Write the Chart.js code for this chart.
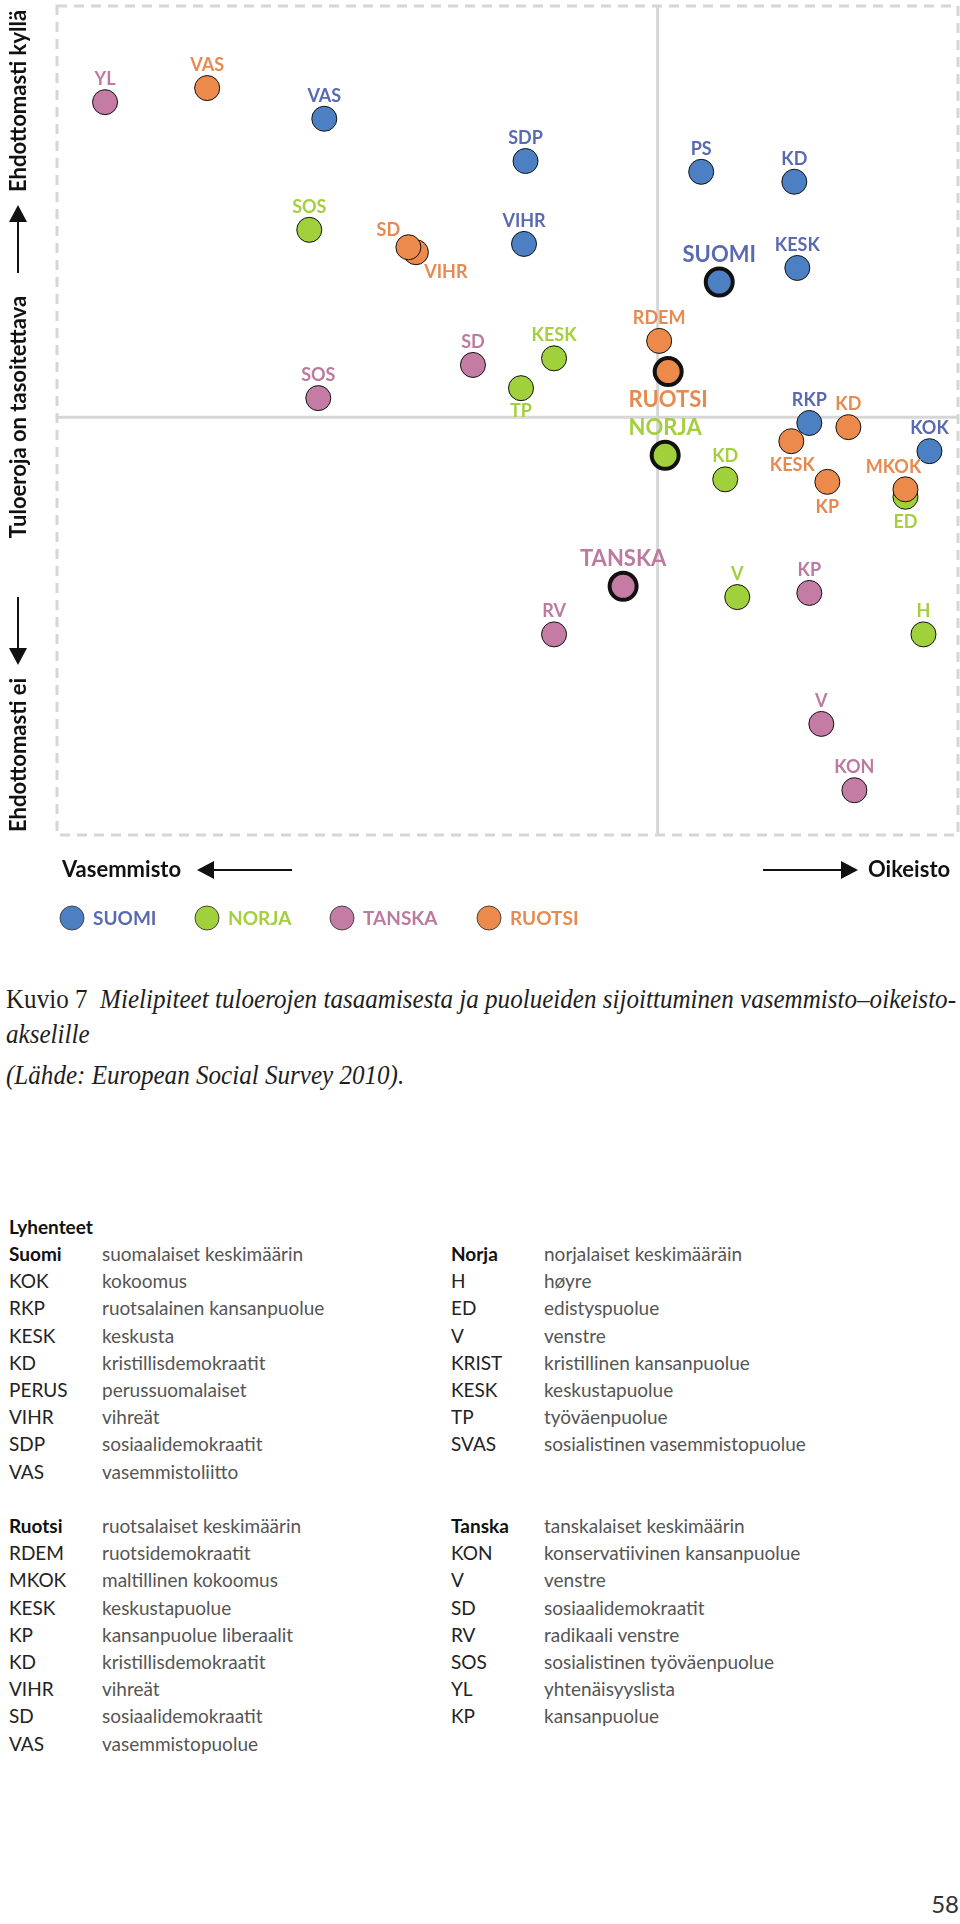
<!DOCTYPE html>
<html lang="fi">
<head>
<meta charset="utf-8">
<title>Kuvio 7</title>
<script src="https://cdn.jsdelivr.net/npm/chart.js@4.4.1/dist/chart.umd.min.js"></script>
<style>
    html, body { margin: 0; padding: 0; background: #fff; }
    body { width: 960px; height: 1924px; position: relative; overflow: hidden; }
    #chart { position: absolute; left: 0; top: 0; }
    .cap { position: absolute; left: 6px; font-family: "Liberation Serif", "DejaVu Serif", serif; font-size: 27px;
           color: #1e1e1e; white-space: nowrap; line-height: 34px; height: 34px; transform-origin: left center; }
    .cap i { font-style: italic; }
    .row { position: absolute; font-family: Lato, "Open Sans", sans-serif; font-size: 19px; line-height: 28px;
           height: 28px; white-space: nowrap; color: #555; font-weight: 400; }
    .row.abbr { color: #222; font-weight: 400; }
    .row.head { color: #111; font-weight: 700; }
    #page { position: absolute; right: 1px; top: 1890px; font-family: "Liberation Sans Narrow", Lato, sans-serif;
            font-size: 24px; line-height: 28px; color: #333; }
</style>
</head>
<body>
<canvas id="chart" width="960" height="945"></canvas>

<div class="cap" id="cap1" style="top:982px">Kuvio 7&nbsp;&nbsp;<i>Mielipiteet tuloerojen tasaamisesta ja puolueiden sijoittuminen vasemmisto–oikeisto-</i></div>
<div class="cap" id="cap2" style="top:1017px"><i>akselille</i></div>
<div class="cap" id="cap3" style="top:1058px"><i>(Lähde: European Social Survey 2010).</i></div>

<div id="abbr"></div>
<div id="page">58</div>

<script>
// x: vasemmisto-oikeisto, y: mielipide tuloerojen tasaamisesta
const MID_X = 5;
const MID_Y = 5.04;
const averages = ['SUOMI', 'NORJA', 'TANSKA', 'RUOTSI'];

const suomiLabels = ['VAS', 'SDP', 'VIHR', 'PS', 'KD', 'KESK', 'SUOMI', 'RKP', 'KOK'];
const suomiX = [2.78, 4.12, 4.11, 5.29, 5.91, 5.93, 5.41, 6.01, 6.81];
const suomiY = [8.64, 8.13, 7.13, 8.00, 7.88, 6.84, 6.67, 4.97, 4.63];

const norjaLabels = ['SOS', 'KESK', 'TP', 'NORJA', 'KD', 'ED', 'V', 'H'];
const norjaX = [2.68, 4.31, 4.09, 5.05, 5.45, 6.65, 5.53, 6.77];
const norjaY = [7.30, 5.75, 5.39, 4.58, 4.29, 4.08, 2.87, 2.42];

const tanskaLabels = ['YL', 'SD', 'SOS', 'TANSKA', 'RV', 'KP', 'V', 'KON'];
const tanskaX = [1.32, 3.77, 2.74, 4.77, 4.31, 6.01, 6.09, 6.31];
const tanskaY = [8.84, 5.67, 5.27, 3.00, 2.42, 2.92, 1.34, 0.54];

const ruotsiLabels = ['VAS', 'VIHR', 'SD', 'RDEM', 'RUOTSI', 'KD', 'KESK', 'KP', 'MKOK'];
const ruotsiX = [2.00, 3.39, 3.34, 5.01, 5.07, 6.27, 5.89, 6.13, 6.65];
const ruotsiY = [9.01, 7.03, 7.09, 5.96, 5.59, 4.92, 4.75, 4.26, 4.17];

// label placement (default: centred above the point)
const labelOffsets = {
    'RUOTSI:SD': [-20, -17],
    'RUOTSI:VIHR': [30, 20],
    'RUOTSI:MKOK': [-12, -22],
    'RUOTSI:RUOTSI': [0, 28],
    'RUOTSI:KESK': [1, 24],
    'RUOTSI:KP': [0, 25],
    'NORJA:TP': [0, 23],
    'NORJA:ED': [0, 25],
};

function makeSet(name, labels, xs, ys, fill, labelColor, order) {
    return {
        label: name,
        data: xs.map((x, i) => ({ x: x, y: ys[i], name: labels[i] })),
        backgroundColor: fill,
        borderColor: '#111',
        pointRadius: c => averages.includes(c.raw.name) ? 13.5 : 12.5,
        pointBorderWidth: c => averages.includes(c.raw.name) ? 4 : 1,
        labelColor: labelColor,
        order: order,
        clip: false,
    };
}

const framePlugin = {
    id: 'frame',
    beforeDatasetsDraw(chart) {
        const { ctx, chartArea: a, scales: { x, y } } = chart;
        const mx = x.getPixelForValue(MID_X);
        const my = y.getPixelForValue(MID_Y);
        ctx.save();
        ctx.strokeStyle = '#d6d6d6';
        ctx.lineWidth = 3;
        ctx.beginPath();
        ctx.moveTo(mx, a.top); ctx.lineTo(mx, a.bottom);
        ctx.moveTo(a.left, my); ctx.lineTo(a.right, my);
        ctx.stroke();
        ctx.setLineDash([10, 7]);
        ctx.strokeRect(a.left, a.top, a.right - a.left, a.bottom - a.top);
        ctx.restore();
    }
};

const labelPlugin = {
    id: 'pointLabels',
    afterDatasetsDraw(chart) {
        const ctx = chart.ctx;
        ctx.save();
        ctx.textAlign = 'center';
        ctx.textBaseline = 'middle';
        chart.data.datasets.forEach((ds, i) => {
            chart.getDatasetMeta(i).data.forEach((pt, j) => {
                const name = ds.data[j].name;
                const avg = averages.includes(name);
                const off = labelOffsets[ds.label + ':' + name] || [0, avg ? -27 : -23];
                ctx.font = (avg ? '700 22px' : '700 18px') + ' Lato, sans-serif';
                ctx.fillStyle = ds.labelColor;
                ctx.fillText(name, pt.x + off[0], pt.y + off[1]);
            });
        });
        ctx.restore();
    }
};

function arrow(ctx, x1, y1, x2, y2) {
    const ang = Math.atan2(y2 - y1, x2 - x1);
    const len = 17, half = 9;
    const bx = x2 - Math.cos(ang) * len, by = y2 - Math.sin(ang) * len;
    ctx.beginPath();
    ctx.moveTo(x1, y1); ctx.lineTo(bx, by);
    ctx.stroke();
    ctx.beginPath();
    ctx.moveTo(x2, y2);
    ctx.lineTo(bx + Math.sin(ang) * half, by - Math.cos(ang) * half);
    ctx.lineTo(bx - Math.sin(ang) * half, by + Math.cos(ang) * half);
    ctx.closePath();
    ctx.fill();
}

function vText(ctx, text, x, y) {
    ctx.save();
    ctx.translate(x, y);
    ctx.rotate(-Math.PI / 2);
    ctx.fillText(text, 0, 0);
    ctx.restore();
}

const axisPlugin = {
    id: 'axisText',
    afterDraw(chart) {
        const ctx = chart.ctx;
        ctx.save();
        ctx.fillStyle = '#111';
        ctx.strokeStyle = '#111';
        ctx.lineWidth = 2;
        ctx.textBaseline = 'middle';

        // vertical axis
        ctx.font = '700 22px Lato, sans-serif';
        ctx.textAlign = 'center';
        vText(ctx, 'Ehdottomasti kyllä', 19, 101);
        vText(ctx, 'Tuloeroja on tasoitettava', 19, 417);
        vText(ctx, 'Ehdottomasti ei', 19, 755);
        arrow(ctx, 18, 273, 18, 205);
        arrow(ctx, 18, 597, 18, 665);

        // horizontal axis
        ctx.font = '700 22px Lato, sans-serif';
        ctx.textAlign = 'left';
        ctx.fillText('Vasemmisto', 62, 870);
        arrow(ctx, 292, 870, 197, 870);
        ctx.fillText('Oikeisto', 868, 870);
        arrow(ctx, 763, 870, 858, 870);

        // legend
        const legendX = [72, 207, 342, 489];
        const legendDs = ['SUOMI', 'NORJA', 'TANSKA', 'RUOTSI'];
        ctx.font = '700 19px Lato, sans-serif';
        legendDs.forEach((n, k) => {
            const ds = chart.data.datasets.find(d => d.label === n);
            ctx.beginPath();
            ctx.arc(legendX[k], 918, 12, 0, Math.PI * 2);
            ctx.fillStyle = ds.backgroundColor;
            ctx.fill();
            ctx.lineWidth = 1;
            ctx.strokeStyle = '#444';
            ctx.stroke();
            ctx.fillStyle = ds.labelColor;
            ctx.fillText(n, legendX[k] + 21, 919);
        });
        ctx.restore();
    }
};

new Chart(document.getElementById('chart'), {
    type: 'scatter',
    data: {
        datasets: [
            makeSet('SUOMI', suomiLabels, suomiX, suomiY, '#4d80c3', '#5a6ab2', 1),
            makeSet('NORJA', norjaLabels, norjaX, norjaY, '#a0d13c', '#a4cf3e', 1),
            makeSet('TANSKA', tanskaLabels, tanskaX, tanskaY, '#c47ca5', '#bd7aa0', 1),
            makeSet('RUOTSI', ruotsiLabels, ruotsiX, ruotsiY, '#ec8a4b', '#e78a50', 0),
        ]
    },
    options: {
        responsive: false,
        animation: false,
        events: [],
        layout: { autoPadding: false, padding: { left: 57, right: 2, top: 6, bottom: 110 } },
        scales: {
            x: { type: 'linear', min: 1, max: 7, display: false },
            y: { type: 'linear', min: 0, max: 10, display: false },
        },
        plugins: { legend: { display: false }, tooltip: { enabled: false } },
    },
    plugins: [framePlugin, labelPlugin, axisPlugin],
});

// abbreviations
const abbrBlocks = [
    { x: [9, 102], top: 1254, rows: [['Suomi', 'suomalaiset keskimäärin'], ['KOK', 'kokoomus'], ['RKP', 'ruotsalainen kansanpuolue'],
        ['KESK', 'keskusta'], ['KD', 'kristillisdemokraatit'], ['PERUS', 'perussuomalaiset'], ['VIHR', 'vihreät'],
        ['SDP', 'sosiaalidemokraatit'], ['VAS', 'vasemmistoliitto']] },
    { x: [451, 544], top: 1254, rows: [['Norja', 'norjalaiset keskimääräin'], ['H', 'høyre'], ['ED', 'edistyspuolue'],
        ['V', 'venstre'], ['KRIST', 'kristillinen kansanpuolue'], ['KESK', 'keskustapuolue'], ['TP', 'työväenpuolue'],
        ['SVAS', 'sosialistinen vasemmistopuolue']] },
    { x: [9, 102], top: 1526, rows: [['Ruotsi', 'ruotsalaiset keskimäärin'], ['RDEM', 'ruotsidemokraatit'], ['MKOK', 'maltillinen kokoomus'],
        ['KESK', 'keskustapuolue'], ['KP', 'kansanpuolue liberaalit'], ['KD', 'kristillisdemokraatit'], ['VIHR', 'vihreät'],
        ['SD', 'sosiaalidemokraatit'], ['VAS', 'vasemmistopuolue']] },
    { x: [451, 544], top: 1526, rows: [['Tanska', 'tanskalaiset keskimäärin'], ['KON', 'konservatiivinen kansanpuolue'], ['V', 'venstre'],
        ['SD', 'sosiaalidemokraatit'], ['RV', 'radikaali venstre'], ['SOS', 'sosialistinen työväenpuolue'], ['YL', 'yhtenäisyyslista'],
        ['KP', 'kansanpuolue']] },
];

const abbrBox = document.getElementById('abbr');
function addRow(text, x, cy, cls) {
    const d = document.createElement('div');
    d.className = 'row ' + cls;
    d.textContent = text;
    d.style.left = x + 'px';
    d.style.top = (cy - 14) + 'px';
    abbrBox.appendChild(d);
}
addRow('Lyhenteet', 9, 1227, 'head');
abbrBlocks.forEach(b => {
    b.rows.forEach((r, k) => {
        const cy = b.top + k * 27.2;
        addRow(r[0], b.x[0], cy, k === 0 ? 'head' : 'abbr');
        addRow(r[1], b.x[1], cy, '');
    });
});

// caption lines: squeeze to the width of the original typesetting
function fit(id, width) {
    const el = document.getElementById(id);
    const w = el.getBoundingClientRect().width;
    el.style.transform = 'scaleX(' + (width / w) + ')';
    return width / w;
}
const s = fit('cap1', 950);
document.getElementById('cap2').style.transform = 'scaleX(' + s + ')';
document.getElementById('cap3').style.transform = 'scaleX(' + s + ')';
</script>
</body>
</html>
